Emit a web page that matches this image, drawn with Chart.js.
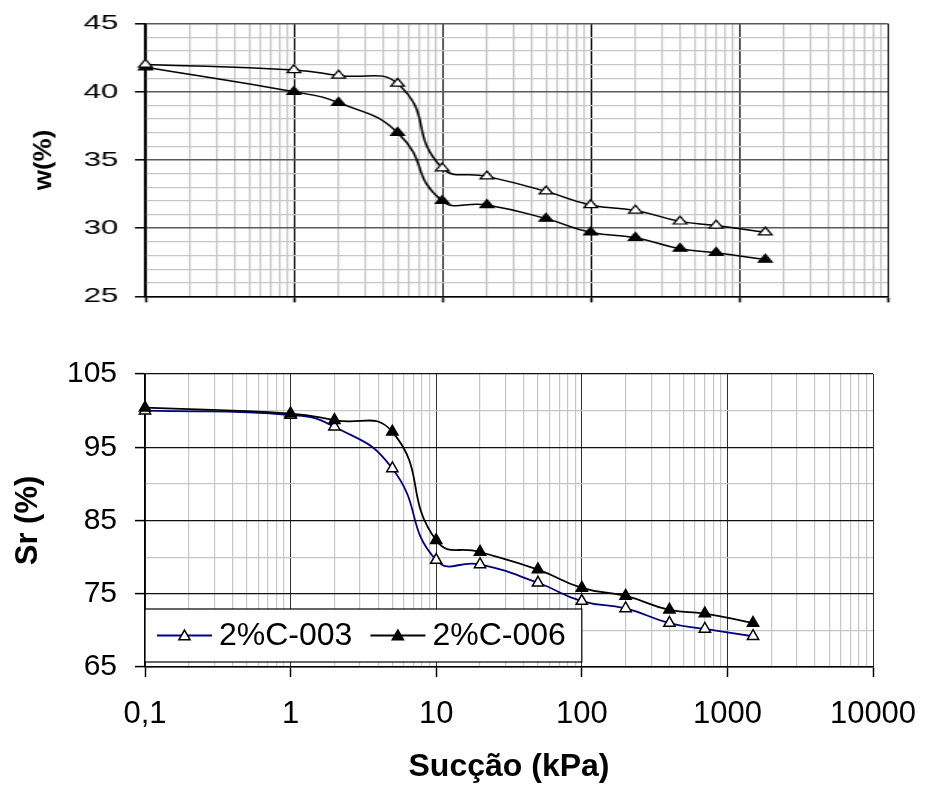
<!DOCTYPE html>
<html>
<head>
<meta charset="utf-8">
<script src="https://cdn.jsdelivr.net/npm/chart.js@4"></script>
<style>
  html, body { margin: 0; padding: 0; background: #fff; }
  #page { position: relative; width: 925px; height: 787px; overflow: hidden; background: #fff; }
  /* upper panel is drawn narrow and widened, as in the original layout */
  #topWrap { position: absolute; left: 0; top: 0; width: 617px; height: 320px;
             transform: scaleX(1.4992); transform-origin: 0 0; }
  #botWrap { position: absolute; left: 0; top: 330px; width: 925px; height: 457px; }
  canvas { display: block; }
</style>
</head>
<body>
<div id="page">
  <div id="topWrap"><canvas id="wChart" width="617" height="320"></canvas></div>
  <div id="botWrap"><canvas id="srChart" width="925" height="457"></canvas></div>
</div>
<script>
// Suction steps (kPa)
const suction = [0.1, 1, 2, 5, 10, 20, 50, 100, 200, 400, 700, 1500];

// Gravimetric water content w (%)
const w003 = [42.0, 41.6, 41.2, 40.6, 34.4, 33.8, 32.7, 31.7, 31.3, 30.5, 30.2, 29.7];
const w006 = [41.8, 40.0, 39.2, 37.0, 32.0, 31.7, 30.7, 29.7, 29.3, 28.5, 28.2, 27.7];

// Degree of saturation Sr (%)
const sr003 = [100.0, 99.4, 97.8, 92.1, 79.6, 79.0, 76.5, 74.0, 73.0, 71.0, 70.2, 69.2];
const sr006 = [100.4, 99.6, 98.7, 97.1, 82.3, 80.7, 78.3, 75.8, 74.7, 72.8, 72.3, 71.0];

const seriesNames = ['2%C-003', '2%C-006'];

// Axis ticks
const decades = [0.1, 1, 10, 100, 1000, 10000];
const decadeLabels = ['0,1', '1', '10', '100', '1000', '10000'];
const wTickLabels = [25, 30, 35, 40, 45];
const srTickLabels = [65, 75, 85, 95, 105];

const FONT = "'Liberation Sans', Arial, Helvetica, sans-serif";
const MAJOR = '#303030';
const MINOR = '#c6c6c6';
const NONE = 'rgba(0,0,0,0)';

// log grid: every decade plus 2..9 inside each decade
const xTickValues = [];
decades.forEach((d, i) => {
  xTickValues.push(d);
  if (i < decades.length - 1) for (let k = 2; k <= 9; k++) xTickValues.push(+(d * k).toPrecision(6));
});
const isDecade = v => decades.indexOf(v) >= 0;

function points(ys) { return suction.map((x, i) => ({ x: x, y: ys[i] })); }

function logAxis(cfg) {
  return {
    type: 'logarithmic',
    min: decades[0],
    max: decades[decades.length - 1],
    afterBuildTicks(scale) {
      scale.ticks = xTickValues.map(v => ({ value: v, major: isDecade(v) }));
    },
    afterFit(scale) {
      scale.height = cfg.height;
      // plot edges are set by the layout padding, not by label overhang
      scale.paddingLeft = 0;
      scale.paddingRight = 0;
    },
    ticks: {
      autoSkip: false, maxRotation: 0, minRotation: 0,
      padding: cfg.pad, color: '#000',
      font: { family: FONT, size: 31 },
      callback(value) {
        const i = decades.indexOf(value);
        return cfg.labels && i >= 0 ? decadeLabels[i] : '';
      }
    },
    grid: {
      color: c => (c.tick && isDecade(c.tick.value)) ? cfg.major : MINOR,
      lineWidth: c => (c.tick && isDecade(c.tick.value)) ? 1 : 1.2,
      tickLength: cfg.tickLength,
      tickColor: c => (c.tick && isDecade(c.tick.value)) ? '#000' : NONE,
      tickWidth: 1.5
    },
    border: { color: '#000', width: 1.5 },
    title: cfg.title || { display: false }
  };
}

function linAxis(cfg) {
  const vals = [];
  for (let v = cfg.min; v <= cfg.max; v += cfg.step) vals.push(v);
  const isMajor = v => cfg.labels.indexOf(v) >= 0;
  return {
    type: 'linear',
    min: cfg.min, max: cfg.max,
    afterBuildTicks(scale) { scale.ticks = vals.map(v => ({ value: v })); },
    afterFit(scale) { scale.width = cfg.width; },
    ticks: {
      autoSkip: false, padding: cfg.pad, color: '#000',
      font: { family: FONT, size: cfg.fontSize },
      callback: v => isMajor(v) ? String(v) : ''
    },
    grid: {
      color: c => (c.tick && isMajor(c.tick.value)) ? cfg.major : MINOR,
      lineWidth: c => (c.tick && isMajor(c.tick.value)) ? cfg.majorWidth : 1.2,
      tickLength: cfg.tickLength,
      tickColor: c => (c.tick && isMajor(c.tick.value)) ? '#000' : NONE,
      tickWidth: 1.5
    },
    border: { color: '#000', width: 1.5 },
    title: cfg.title || { display: false }
  };
}

// rotated, condensed y title of the upper panel
const wTitle = {
  id: 'wTitle',
  afterDraw(chart) {
    const { ctx, chartArea } = chart;
    ctx.save();
    ctx.translate(29.5, (chartArea.top + chartArea.bottom) / 2);
    ctx.rotate(-Math.PI / 2);
    ctx.scale(1, 0.62);
    ctx.font = 'bold 26px ' + FONT;
    ctx.fillStyle = '#000';
    ctx.textAlign = 'center';
    ctx.textBaseline = 'middle';
    ctx.fillText('w(%)', 0, 0);
    ctx.restore();
  }
};

function triangle(ctx, x, y, r) {
  ctx.beginPath();
  ctx.moveTo(x, y - r);
  ctx.lineTo(x + Math.sin(2 * Math.PI / 3) * r, y + 0.5 * r);
  ctx.lineTo(x - Math.sin(2 * Math.PI / 3) * r, y + 0.5 * r);
  ctx.closePath();
}

// boxed legend at the lower left of the Sr panel
const srLegend = {
  id: 'srLegend',
  afterDatasetsDraw(chart) {
    const { ctx, chartArea, scales } = chart;
    const left = chartArea.left;
    const right = scales.x.getPixelForValue(100);
    const top = chartArea.bottom - 58;
    const bottom = chartArea.bottom - 5;
    ctx.save();
    ctx.fillStyle = '#fff';
    ctx.fillRect(left, top, right - left, bottom - top);
    ctx.strokeStyle = '#000';
    ctx.lineWidth = 1.2;
    ctx.strokeRect(left, top, right - left, bottom - top);
    const cy = (top + bottom) / 2;
    ctx.font = '32px ' + FONT;
    ctx.textBaseline = 'middle';
    ctx.textAlign = 'left';
    let x = left + 12;
    [0, 1].forEach(i => {
      const ds = chart.data.datasets[i];
      ctx.strokeStyle = ds.borderColor;
      ctx.lineWidth = ds.borderWidth;
      ctx.beginPath();
      ctx.moveTo(x, cy);
      ctx.lineTo(x + 55, cy);
      ctx.stroke();
      triangle(ctx, x + 27.5, cy + 1, ds.pointRadius);
      ctx.fillStyle = ds.pointBackgroundColor;
      ctx.fill();
      ctx.strokeStyle = ds.pointBorderColor;
      ctx.lineWidth = ds.pointBorderWidth;
      ctx.stroke();
      ctx.fillStyle = '#000';
      ctx.fillText(ds.label, x + 62, cy + 1);
      x += 62 + ctx.measureText(ds.label).width + 18;
    });
    ctx.restore();
  }
};

const common = {
  responsive: false,
  animation: false,
  devicePixelRatio: 1,
  events: [],
  plugins: { legend: { display: false }, tooltip: { enabled: false } }
};

// Upper panel: water content
new Chart(document.getElementById('wChart'), {
  type: 'line',
  data: {
    datasets: [
      { label: seriesNames[0], data: points(w003), borderColor: '#000', borderWidth: 1.5,
        pointStyle: 'triangle', pointRadius: 5.2, pointBackgroundColor: '#fff',
        pointBorderColor: '#000', pointBorderWidth: 1.2, tension: 0.5, clip: false, order: 0 },
      { label: seriesNames[1], data: points(w006), borderColor: '#000', borderWidth: 1.5,
        pointStyle: 'triangle', pointRadius: 5.2, pointBackgroundColor: '#000',
        pointBorderColor: '#000', pointBorderWidth: 1.2, tension: 0.5, clip: false, order: 1 }
    ]
  },
  options: Object.assign({}, common, {
    layout: { padding: { top: 21, right: 25, bottom: 0, left: 0 } },
    scales: {
      x: logAxis({ height: 12, pad: 0, labels: false, tickLength: 6, major: '#111' }),
      y: linAxis({ min: 25, max: 45, step: 1, labels: wTickLabels, width: 97, pad: 11,
                   fontSize: 21, tickLength: 7, major: '#5a5a5a', majorWidth: 1.6 })
    }
  }),
  plugins: [wTitle]
});

// Lower panel: degree of saturation
new Chart(document.getElementById('srChart'), {
  type: 'line',
  data: {
    datasets: [
      { label: seriesNames[0], data: points(sr003), borderColor: '#000080', borderWidth: 1.8,
        pointStyle: 'triangle', pointRadius: 6.5, pointBackgroundColor: '#fff',
        pointBorderColor: '#000', pointBorderWidth: 1.5, tension: 0.5, clip: false, order: 1 },
      { label: seriesNames[1], data: points(sr006), borderColor: '#000', borderWidth: 1.8,
        pointStyle: 'triangle', pointRadius: 6.5, pointBackgroundColor: '#000',
        pointBorderColor: '#000', pointBorderWidth: 1.5, tension: 0.5, clip: false, order: 0 }
    ]
  },
  options: Object.assign({}, common, {
    layout: { padding: { top: 44, right: 52, bottom: 0, left: 0 } },
    scales: {
      x: logAxis({ height: 120, pad: 19, labels: true, tickLength: 10, major: MAJOR,
                   title: { display: true, text: 'Sucção (kPa)', color: '#000',
                            font: { family: FONT, size: 32, weight: 'bold' },
                            padding: { top: 0, bottom: 1 } } }),
      y: linAxis({ min: 65, max: 105, step: 5, labels: srTickLabels, width: 145, pad: 18,
                   fontSize: 30, tickLength: 10, major: '#111', majorWidth: 1.2,
                   title: { display: true, text: 'Sr (%)', color: '#000',
                            font: { family: FONT, size: 31, weight: 'bold' },
                            padding: { top: 10, bottom: 0 } } })
    }
  }),
  plugins: [srLegend]
});
</script>
</body>
</html>
